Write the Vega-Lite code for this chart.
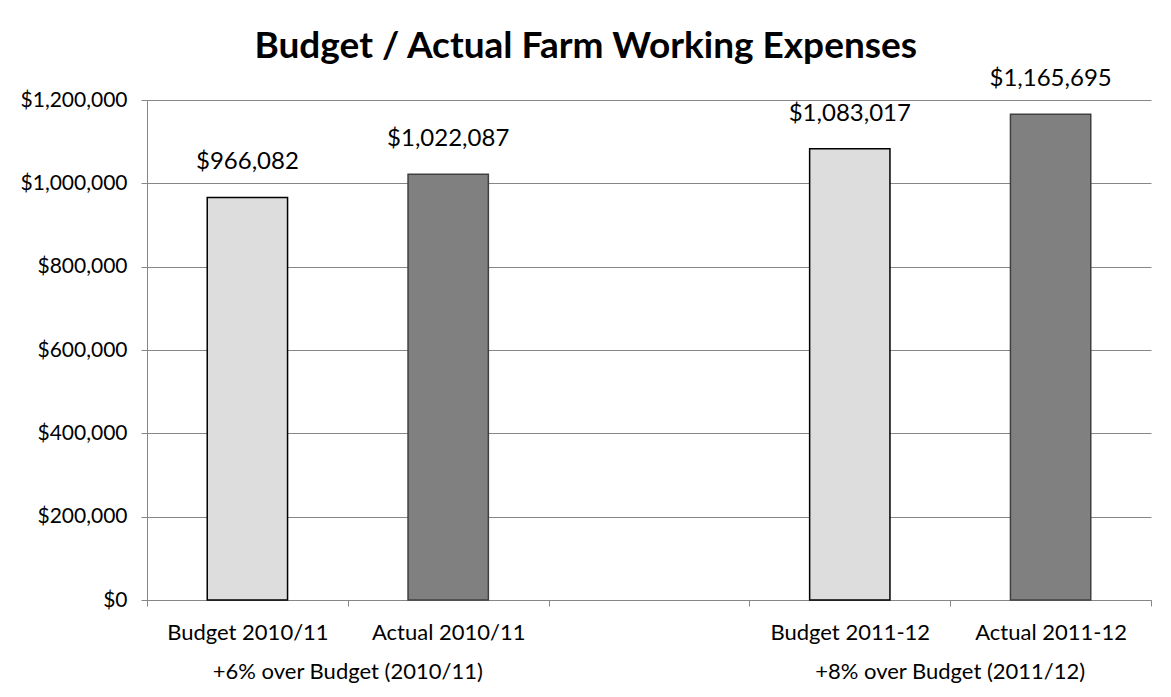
{
  "$schema": "https://vega.github.io/schema/vega-lite/v6.json",
  "width": 1004,
  "height": 500,
  "autosize": {"type": "none"},
  "padding": {"left": 147, "top": 100, "right": 20, "bottom": 97},
  "background": "white",
  "title": {
    "text": "Budget / Actual Farm Working Expenses",
    "font": "Lato",
    "fontSize": 37,
    "fontWeight": "bold",
    "color": "black",
    "anchor": "middle",
    "frame": "bounds",
    "offset": 1
  },
  "config": {"view": {"stroke": null}, "font": "Lato"},
  "datasets": {
    "bars": [
      {"category": "Budget 2010/11", "type": "Budget", "amount": 966082},
      {"category": "Actual 2010/11", "type": "Actual", "amount": 1022087},
      {"category": "Budget 2011-12", "type": "Budget", "amount": 1083017},
      {"category": "Actual 2011-12", "type": "Actual", "amount": 1165695}
    ],
    "groups": [
      {"label": "+6% over Budget (2010/11)", "at": "Actual 2010/11"},
      {"label": "+8% over Budget (2011/12)", "at": "Actual 2011-12"}
    ]
  },
  "data": {"name": "bars"},
  "layer": [
    {
      "mark": {"type": "bar", "width": {"band": 0.4}, "strokeWidth": 1.5},
      "encoding": {
        "x": {
          "field": "category",
          "type": "nominal",
          "scale": {
            "domain": ["Budget 2010/11", "Actual 2010/11", " ", "Budget 2011-12", "Actual 2011-12"],
            "paddingInner": 0,
            "paddingOuter": 0
          },
          "axis": {
            "title": null,
            "labelAngle": 0,
            "labelFont": "Lato",
            "labelFontSize": 22,
            "labelColor": "black",
            "labelBaseline": "alphabetic",
            "labelPadding": 33,
            "tickSize": 6,
            "tickBand": "extent",
            "tickColor": "#868686",
            "domainColor": "#868686",
            "grid": false
          }
        },
        "y": {
          "field": "amount",
          "type": "quantitative",
          "scale": {"domain": [0, 1200000], "nice": false},
          "axis": {
            "title": null,
            "values": [0, 200000, 400000, 600000, 800000, 1000000, 1200000],
            "format": "$,.0f",
            "labelFont": "Lato",
            "labelFontSize": 21,
            "labelColor": "black",
            "labelPadding": 14,
            "tickSize": 6,
            "tickColor": "#868686",
            "domainColor": "#868686",
            "gridColor": "#868686",
            "gridWidth": 1
          }
        },
        "color": {
          "field": "type",
          "type": "nominal",
          "scale": {"domain": ["Budget", "Actual"], "range": ["#dddddd", "#808080"]},
          "legend": null
        },
        "stroke": {
          "field": "type",
          "type": "nominal",
          "scale": {"domain": ["Budget", "Actual"], "range": ["#000000", "#404040"]},
          "legend": null
        },
        "fillOpacity": {"value": 1}
      }
    },
    {
      "mark": {"type": "text", "baseline": "alphabetic", "dy": -28, "fontSize": 24, "font": "Lato", "color": "black"},
      "encoding": {
        "x": {"field": "category", "type": "nominal"},
        "y": {"field": "amount", "type": "quantitative"},
        "text": {"field": "amount", "type": "quantitative", "format": "$,.0f"}
      }
    },
    {
      "data": {"name": "groups"},
      "mark": {"type": "text", "baseline": "alphabetic", "dy": 79, "fontSize": 22, "font": "Lato", "color": "black"},
      "encoding": {
        "x": {"field": "at", "type": "nominal", "bandPosition": 0},
        "y": {"datum": 0},
        "text": {"field": "label"}
      }
    }
  ]
}
